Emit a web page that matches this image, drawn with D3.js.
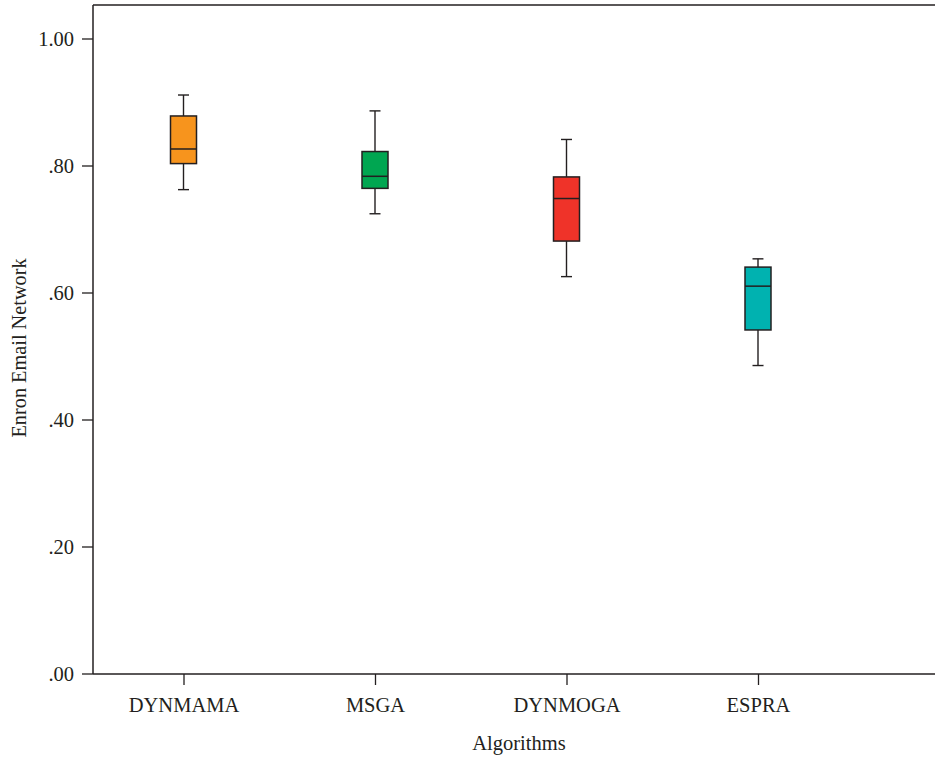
<!DOCTYPE html>
<html><head><meta charset="utf-8">
<script src="https://cdn.jsdelivr.net/npm/d3@7"></script>
<style>body{margin:0;background:#fff;} svg{display:block;font-family:"Liberation Serif","DejaVu Serif",serif;}</style>
</head><body>
<svg id="c" width="935" height="757"></svg>
<script>
const categories = ["DYNMAMA", "MSGA", "DYNMOGA", "ESPRA"];
const whiskerLow  = [0.762, 0.724, 0.625, 0.485];
const q1          = [0.803, 0.764, 0.681, 0.541];
const median      = [0.826, 0.783, 0.748, 0.610];
const q3          = [0.878, 0.822, 0.782, 0.640];
const whiskerHigh = [0.911, 0.886, 0.841, 0.653];
const colors = ["#F7941D", "#00A651", "#EF3329", "#00B2B0"];
const yTicks = [0, 0.2, 0.4, 0.6, 0.8, 1.0];
const yTickLabels = [".00", ".20", ".40", ".60", ".80", "1.00"];

const svg = d3.select("#c");
const padL = 93, padT = 5, padB = 674, padR = 940;
const y = d3.scaleLinear().domain([0, 1]).range([673.5, 38.5]);
const x = d3.scalePoint().domain(categories).range([183.5, 758]);
const ink = "#231f20";

// frame
svg.append("line").attr("x1", padL).attr("x2", padR).attr("y1", padT).attr("y2", padT).attr("stroke", ink).attr("stroke-width", 1.5);

const yAxis = d3.axisLeft(y).tickValues(yTicks).tickFormat((d, i) => yTickLabels[i]).tickSize(11).tickPadding(8).tickSizeOuter(0);
const gy = svg.append("g").attr("transform", `translate(${padL},0)`).call(yAxis);
gy.select(".domain").remove();
gy.append("line").attr("x1", 0).attr("x2", 0).attr("y1", padT).attr("y2", padB).attr("stroke", ink).attr("stroke-width", 1.5);
gy.selectAll(".tick line").attr("stroke", ink).attr("stroke-width", 1.3);
gy.selectAll(".tick text").attr("fill", ink).style("font-size", "20.5px").style("font-family", "Liberation Serif");

const xAxis = d3.axisBottom(x).tickSize(11).tickPadding(12).tickSizeOuter(0);
const gx = svg.append("g").attr("transform", `translate(0,${padB})`).call(xAxis);
gx.select(".domain").remove();
gx.append("line").attr("x1", padL).attr("x2", padR).attr("y1", 0).attr("y2", 0).attr("stroke", ink).attr("stroke-width", 1.5);
gx.selectAll(".tick line").attr("stroke", ink).attr("stroke-width", 1.3);
gx.selectAll(".tick text").attr("fill", ink).style("font-size", "20.5px").style("font-family", "Liberation Serif");

// titles
svg.append("text").attr("x", 519).attr("y", 750).attr("text-anchor", "middle").attr("fill", ink)
  .style("font-size", "20.5px").text("Algorithms");
svg.append("text").attr("transform", "translate(26,348) rotate(-90)").attr("text-anchor", "middle").attr("fill", ink)
  .style("font-size", "20.3px").text("Enron Email Network");

// boxes
const boxW = 26, capW = 11;
const g = svg.append("g");
categories.forEach((c, i) => {
  const cx = x(c);
  const gg = g.append("g");
  gg.append("line").attr("x1", cx).attr("x2", cx).attr("y1", y(whiskerHigh[i])).attr("y2", y(q3[i])).attr("stroke", ink).attr("stroke-width", 1.4);
  gg.append("line").attr("x1", cx).attr("x2", cx).attr("y1", y(q1[i])).attr("y2", y(whiskerLow[i])).attr("stroke", ink).attr("stroke-width", 1.4);
  gg.append("line").attr("x1", cx - capW / 2).attr("x2", cx + capW / 2).attr("y1", y(whiskerHigh[i])).attr("y2", y(whiskerHigh[i])).attr("stroke", ink).attr("stroke-width", 1.4);
  gg.append("line").attr("x1", cx - capW / 2).attr("x2", cx + capW / 2).attr("y1", y(whiskerLow[i])).attr("y2", y(whiskerLow[i])).attr("stroke", ink).attr("stroke-width", 1.4);
  gg.append("rect").attr("x", cx - boxW / 2).attr("width", boxW).attr("y", y(q3[i])).attr("height", y(q1[i]) - y(q3[i]))
    .attr("fill", colors[i]).attr("stroke", ink).attr("stroke-width", 1.5);
  gg.append("line").attr("x1", cx - boxW / 2).attr("x2", cx + boxW / 2).attr("y1", y(median[i])).attr("y2", y(median[i])).attr("stroke", ink).attr("stroke-width", 1.5);
});
</script>
</body></html>
